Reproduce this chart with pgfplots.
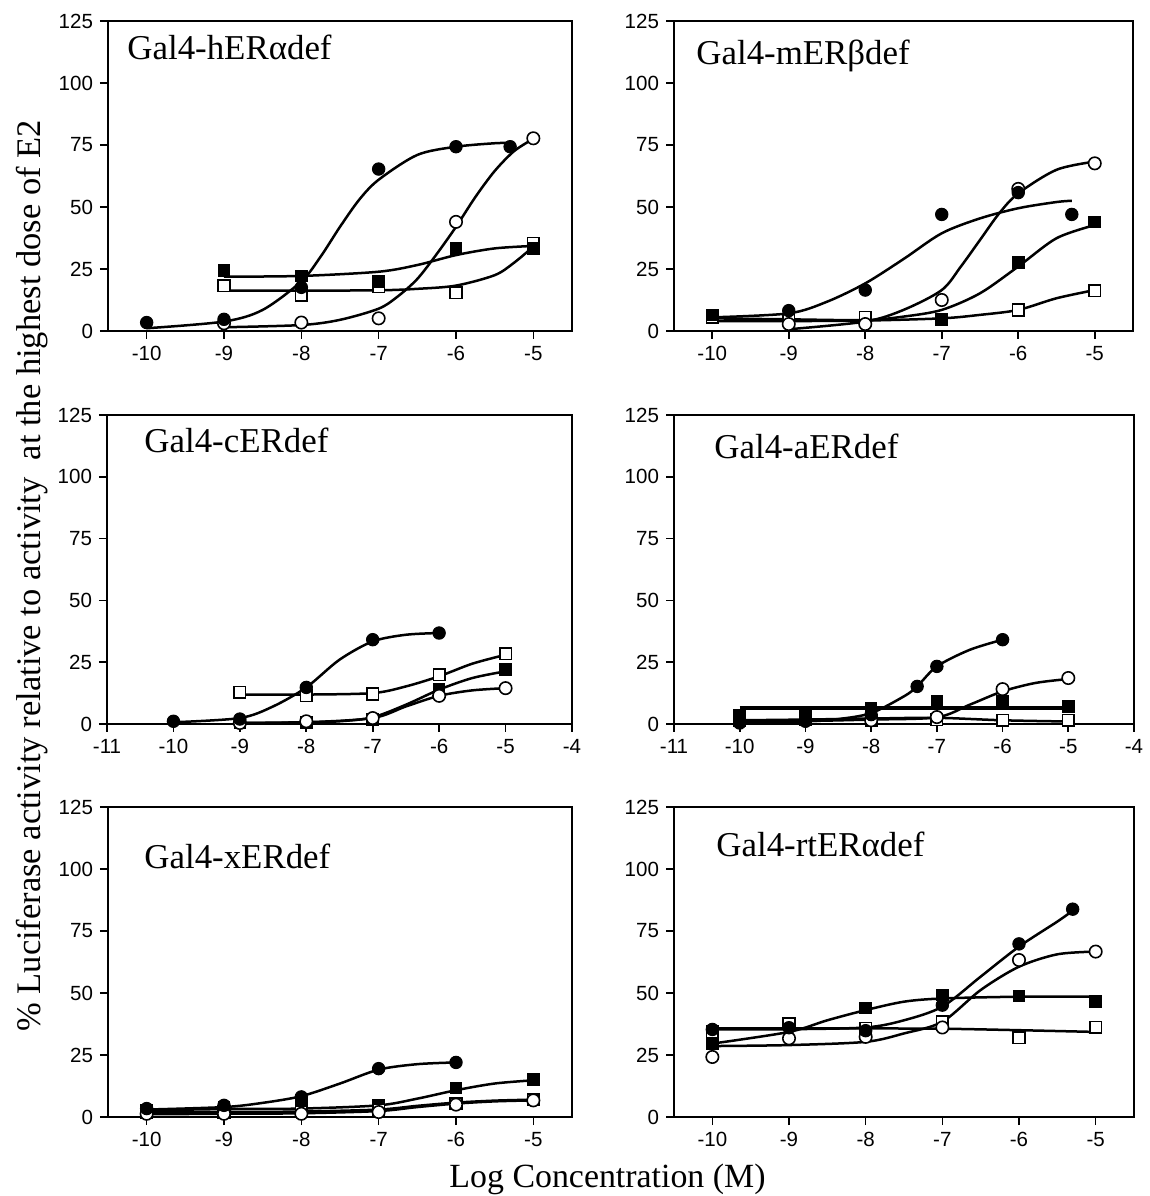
\documentclass[border=0pt]{standalone}
\usepackage{fontspec}
\setmainfont{Liberation Serif}
\newfontfamily\arial{Liberation Sans}
\usepackage{pgfplots}
\pgfplotsset{compat=1.18}
\pgfplotsset{
  myaxis/.style={scale only axis, anchor=south west,
    ymin=0, ymax=125, ytick={0,25,50,75,100,125}, yticklabels={0,25,50,75,100,125},
    tick align=outside, tick pos=left, major tick length=4bp,
    axis line style={line width=0.8bp, black},
    every tick/.style={line width=0.8bp, black},
    ticklabel style={font=\arial\fontsize{10.3}{12}\selectfont},
    clip=false},
  xa/.style={xmin=-10.5, xmax=-4.5, xtick={-10,-9,-8,-7,-6,-5}, xticklabels={-10,-9,-8,-7,-6,-5}},
  xb/.style={xmin=-11, xmax=-4, xtick={-11,-10,-9,-8,-7,-6,-5,-4}, xticklabels={-11,-10,-9,-8,-7,-6,-5,-4}},
  cv/.style={black, line width=1.25bp, smooth, no markers},
  fc/.style={only marks, mark=*, mark size=3.1bp, mark options={fill=black, draw=black, line width=0.5bp}},
  oc/.style={only marks, mark=*, mark size=3.1bp, mark options={fill=white, draw=black, line width=0.8bp}},
  fs/.style={only marks, mark=square*, mark size=2.9bp, mark options={fill=black, draw=black, line width=0.5bp}},
  os/.style={only marks, mark=square*, mark size=2.9bp, mark options={fill=white, draw=black, line width=0.8bp}},
}
\newcommand\ttl{\fontsize{17.5}{20}\selectfont}
\tikzset{ttl/.style={anchor=base west, inner sep=0pt, font=\ttl}}
\begin{document}
\begin{tikzpicture}
\useasboundingbox (0,0) rectangle (575bp,598bp);
% ---------------- Panel 1: hERa
\begin{axis}[myaxis, xa, name=p1, at={(54bp,432.5bp)}, width=232bp, height=155bp]
\addplot[cv] coordinates {(-10,1.1) (-9,3.8) (-8.5,8.5) (-8,20) (-7.75,30) (-7.5,42) (-7.25,53) (-7,61) (-6.5,71) (-6,74.3) (-5.5,75.7) (-5.3,75.8)};
\addplot[cv] coordinates {(-9,1.5) (-8,2.4) (-7.5,4.5) (-7,9) (-6.75,14) (-6.5,21) (-6.25,31) (-6,42) (-5.75,54) (-5.5,64.5) (-5.25,72.5) (-5,77.5)};
\addplot[cv] coordinates {(-9,21.9) (-8,22.2) (-7,23.9) (-6.5,26.6) (-6,30.6) (-5.5,33.3) (-5,34.3)};
\addplot[cv] coordinates {(-9,16.3) (-8,16.3) (-7,16.4) (-6.5,17) (-6,18.3) (-5.5,22.5) (-5.25,27.5) (-5,34)};
\addplot[os] coordinates {(-9,18.3) (-8,14.5) (-7,17.9) (-6,15.5) (-5,35.3)};
\addplot[fs] coordinates {(-9,24.3) (-8,22.2) (-7,19.9) (-6,33.3) (-5,33.3)};
\addplot[oc] coordinates {(-9,3.1) (-8,3.4) (-7,5.1) (-6,44) (-5,77.7)};
\addplot[fc] coordinates {(-10,3.4) (-9,4.7) (-8,17.6) (-7,65.3) (-6,74.3) (-5.3,74.3)};
\end{axis}
\node[ttl] at ([xshift=9.5bp,yshift=-19.5bp]p1.north west) {Gal4-hER\char"03B1 def};
% ---------------- Panel 2: mERb
\begin{axis}[myaxis, xa, name=p2, at={(337bp,432.5bp)}, width=229.5bp, height=155bp]
\addplot[cv] coordinates {(-10,5.5) (-9,7.1) (-8.5,11.8) (-8,19.2) (-7.5,29) (-7,39.4) (-6.5,45.4) (-6,49.5) (-5.5,52) (-5.3,52.5)};
\addplot[cv] coordinates {(-9,0.7) (-8,3.8) (-7.5,8.5) (-7,16.5) (-6.75,26) (-6.5,36.7) (-6.25,47.4) (-6,55.5) (-5.5,65) (-5,68.3)};
\addplot[cv] coordinates {(-10,5.1) (-9,4.7) (-8,4.4) (-7.5,5.8) (-7,8.5) (-6.5,15.2) (-6,26) (-5.5,37.4) (-5,42.7)};
\addplot[cv] coordinates {(-10,4) (-9,4) (-8,4.2) (-7,5.1) (-6.5,6.5) (-6,8.5) (-5.5,13.2) (-5,16.5)};
\addplot[os] coordinates {(-10,5.5) (-9,4.5) (-8,5.5) (-6,8.5) (-5,16.3)};
\addplot[fs] coordinates {(-10,6.5) (-7,4.7) (-6,27.6) (-5,44)};
\addplot[oc] coordinates {(-9,2.8) (-8,2.8) (-7,12.5) (-6,57.3) (-5,67.6)};
\addplot[fc] coordinates {(-9,8.2) (-8,16.5) (-7,47) (-6,55.8) (-5.3,47)};
\end{axis}
\node[ttl] at ([xshift=11bp,yshift=-22bp]p2.north west) {Gal4-mER\char"03B2 def};
% ---------------- Panel 3: cER
\begin{axis}[myaxis, xb, name=p3, at={(53.5bp,236bp)}, width=232.5bp, height=154.5bp]
\addplot[cv] coordinates {(-10,0.7) (-9,2.4) (-8.5,7.1) (-8,14.8) (-7.5,26) (-7,33.4) (-6.5,36.1) (-6,36.8)};
\addplot[cv] coordinates {(-9,11.9) (-8,11.9) (-7,12.5) (-6.5,15.2) (-6,19.3) (-5.5,24.4) (-5,28)};
\addplot[cv] coordinates {(-9,0.4) (-8,0.7) (-7.5,1.1) (-7,2.7) (-6.5,7.8) (-6,13.9) (-5.5,18.6) (-5,21.3)};
\addplot[cv] coordinates {(-9,0.4) (-8,0.7) (-7,2.4) (-6.5,7.1) (-6,11.4) (-5.5,13.6) (-5,14.5)};
\addplot[fs] coordinates {(-9,0.7) (-8,0.7) (-7,1.8) (-6,14.1) (-5,22)};
\addplot[os] coordinates {(-9,12.8) (-8,11.4) (-7,12.1) (-6,19.9) (-5,28.4)};
\addplot[oc] coordinates {(-9,0.4) (-8,1.1) (-7,2.4) (-6,11.4) (-5,14.5)};
\addplot[fc] coordinates {(-10,1.1) (-9,2) (-8,14.8) (-7,34.1) (-6,36.8)};
\end{axis}
\node[ttl] at ([xshift=18.5bp,yshift=-19bp]p3.north west) {Gal4-cERdef};
% ---------------- Panel 4: aER
\begin{axis}[myaxis, xb, name=p4, at={(337bp,236bp)}, width=230bp, height=154.5bp]
\addplot[cv] coordinates {(-10,0.4) (-9,1.1) (-8.5,2) (-8,4.4) (-7.5,11.2) (-7.3,15.2) (-7,23.3) (-6.5,30) (-6,34.1)};
\addplot[cv] coordinates {(-10,1) (-9,1.2) (-8,1.8) (-7,2.7) (-6.5,7.8) (-6,13.2) (-5.5,16.6) (-5,18.2)};
\addplot[black, line width=1.8bp, no markers] coordinates {(-10,6.5) (-5,6.5)};
\addplot[cv] coordinates {(-10,1.5) (-9,1.8) (-8,2.2) (-7,2.5) (-6,1.5) (-5,1.0)};
\addplot[os] coordinates {(-10,1.5) (-9,1.8) (-8,1.5) (-7,1.8) (-6,1.5) (-5,1.5)};
\addplot[fs] coordinates {(-10,3.4) (-9,3.8) (-8,6.5) (-7,9.2) (-6,9.2) (-5,7.1)};
\addplot[oc] coordinates {(-8,1.5) (-7,2.8) (-6,14.1) (-5,18.6)};
\addplot[fc] coordinates {(-10,0.4) (-9,1.1) (-8,3.8) (-7.3,15.2) (-7,23.3) (-6,34.1)};
\end{axis}
\node[ttl] at ([xshift=20bp,yshift=-22bp]p4.north west) {Gal4-aERdef};
% ---------------- Panel 5: xER
\begin{axis}[myaxis, xa, name=p5, at={(54bp,39.5bp)}, width=232bp, height=155bp]
\addplot[cv] coordinates {(-10,3) (-9,4) (-8.5,5.7) (-8,8.4) (-7.5,13.5) (-7,19.1) (-6.5,21.3) (-6,22)};
\addplot[cv] coordinates {(-10,2.7) (-9,3.2) (-8,3.4) (-7,4.7) (-6.5,7.4) (-6,10.8) (-5.5,13.5) (-5,14.8)};
\addplot[cv] coordinates {(-10,1.1) (-9,1.3) (-8,1.5) (-7,2.4) (-6.5,4) (-6,5.4) (-5.5,6.3) (-5,6.7)};
\addplot[cv] coordinates {(-10,1.8) (-9,2) (-8,2.2) (-7,3) (-6.5,4.5) (-6,5.8) (-5.5,6.6) (-5,7)};
\addplot[fs] coordinates {(-10,2.7) (-9,4) (-8,6.1) (-7,4.7) (-6,11.7) (-5,15.1)};
\addplot[os] coordinates {(-10,1.8) (-9,2) (-8,2.2) (-7,3) (-6,5.4) (-5,6.9)};
\addplot[oc] coordinates {(-10,1.3) (-9,1.3) (-8,1.3) (-7,2) (-6,5) (-5,6.7)};
\addplot[fc] coordinates {(-10,3.4) (-9,4.7) (-8,8.1) (-7,19.5) (-6,22)};
\end{axis}
\node[ttl] at ([xshift=18bp,yshift=-31bp]p5.north west) {Gal4-xERdef};
% ---------------- Panel 6: rtERa
\begin{axis}[myaxis, xa, name=p6, at={(337bp,39.5bp)}, width=230bp, height=155bp]
\addplot[cv] coordinates {(-10,35.3) (-9,35.4) (-8,36.1) (-7.5,39) (-7,44.5) (-6.5,56.6) (-6,68.7) (-5.5,78.8) (-5.3,83.2)};
\addplot[cv] coordinates {(-10,28.6) (-9,29) (-8,30.3) (-7.5,33.7) (-7,38.4) (-6.5,51.2) (-6,60.6) (-5.5,65.6) (-5,66.7)};
\addplot[cv] coordinates {(-10,29.6) (-9,34.3) (-8.5,39) (-8,43.1) (-7.5,46.5) (-7,47.8) (-6,48.5) (-5,48.5)};
\addplot[cv] coordinates {(-10,35.7) (-9,35.7) (-8,35.7) (-7,35.6) (-6,35) (-5,34.3)};
\addplot[os] coordinates {(-10,34.3) (-9,37.7) (-8,35.7) (-7,38.4) (-6,32) (-5,36.1)};
\addplot[fs] coordinates {(-10,29.6) (-8,44) (-7,49.2) (-6,48.8) (-5,46.5)};
\addplot[oc] coordinates {(-10,24.2) (-9,31.7) (-8,32.3) (-7,36.1) (-6,63.3) (-5,66.7)};
\addplot[fc] coordinates {(-10,35.3) (-9,36) (-8,34.8) (-7,45.1) (-6,69.8) (-5.3,83.8)};
\end{axis}
\node[ttl] at ([xshift=21bp,yshift=-25bp]p6.north west) {Gal4-rtER\char"03B1 def};
% ---------------- axis titles
\node[anchor=base, font=\fontsize{17}{20}\selectfont] at (303.75bp,4.5bp) {Log Concentration (M)};
\node[anchor=base, rotate=90, font=\fontsize{17.3}{20}\selectfont] at (20.3bp,310bp) {\% Luciferase activity relative to activity\ \ at the highest dose of E2};
\end{tikzpicture}
\end{document}
